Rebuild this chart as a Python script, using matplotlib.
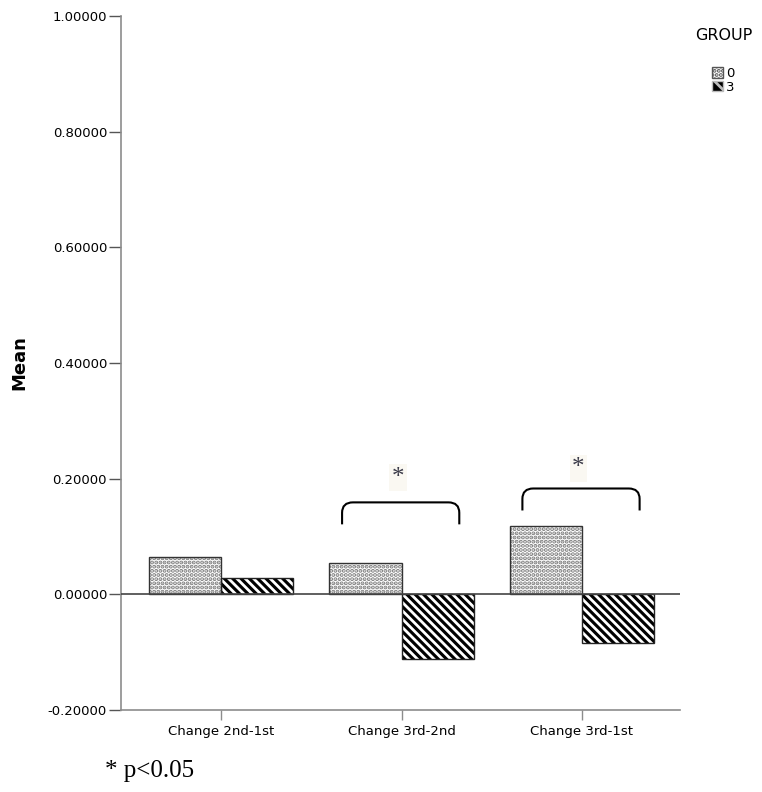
import numpy as np
import matplotlib
matplotlib.use("Agg")
import matplotlib.pyplot as plt
from matplotlib.patches import Patch, PathPatch
from matplotlib.path import Path

categories = ["Change 2nd-1st", "Change 3rd-2nd", "Change 3rd-1st"]
groups = ["0", "3"]
mean_g0 = [0.064, 0.054, 0.119]
mean_g3 = [0.028, -0.112, -0.085]
y_ticks = [-0.2, 0.0, 0.2, 0.4, 0.6, 0.8, 1.0]

# significance brackets: category index, bracket top, star height
sig_cats = [1, 2]
sig_tops = [0.159, 0.183]
sig_stars = [0.202, 0.218]

plt.rcParams["font.family"] = ["DejaVu Sans"]
plt.rcParams["hatch.linewidth"] = 2.0

fig = plt.figure(figsize=(7.62, 7.92), dpi=100)
ax = fig.add_axes([121 / 762, 1 - 710 / 792, (680 - 121) / 762, (710 - 16) / 792])

x = np.arange(len(categories))
w = 0.4

# group 0: grey dot stipple
ax.bar(x - w / 2, mean_g0, w, color="white", edgecolor="#7a7a7a", hatch="....", lw=0, zorder=2)
ax.bar(x - w / 2, mean_g0, w, fill=False, edgecolor="#333333", lw=1.0, zorder=3)
# group 3: black with white diagonal stripes
ax.bar(x + w / 2, mean_g3, w, color="black", edgecolor="white", hatch="\\\\\\\\", lw=0, zorder=2)
ax.bar(x + w / 2, mean_g3, w, fill=False, edgecolor="#222222", lw=1.0, zorder=3)

ax.axhline(0, color="#444444", lw=1.2, zorder=4)

ax.set_xlim(-0.556, 2.544)
ax.set_ylim(-0.2, 1.0)
ax.set_yticks(y_ticks)
ax.set_yticklabels([f"{v:.5f}" for v in y_ticks], fontsize=9.5)
ax.set_xticks(x)
ax.set_xticklabels(categories, fontsize=9.5)
ax.tick_params(axis="x", length=7, width=1, color="#8c8c8c", pad=4)
ax.tick_params(axis="y", length=9, width=1, color="#555555", pad=1)
for s in ("top", "right"):
    ax.spines[s].set_visible(False)
for s in ("left", "bottom"):
    ax.spines[s].set_color("#8c8c8c")
    ax.spines[s].set_linewidth(1.2)
ax.set_ylabel("Mean", fontsize=13, fontweight="bold", labelpad=14)


def bracket(ax, x0, x1, top, drop=0.038, rx=0.06, ry=0.018):
    verts = [(x0, top - drop), (x0, top - ry), (x0, top), (x0 + rx, top),
             (x1 - rx, top), (x1, top), (x1, top - ry), (x1, top - drop)]
    codes = [Path.MOVETO, Path.LINETO, Path.CURVE3, Path.CURVE3,
             Path.LINETO, Path.CURVE3, Path.CURVE3, Path.LINETO]
    ax.add_patch(PathPatch(Path(verts, codes), fill=False, lw=1.5,
                           edgecolor="black", zorder=5))


for c, top, star in zip(sig_cats, sig_tops, sig_stars):
    bracket(ax, c - 0.33, c + 0.32, top)
    ax.text(c - 0.02, star, "*", ha="center", va="center", fontsize=18,
            family=["Liberation Serif"], color="#3a3a48",
            bbox=dict(boxstyle="square,pad=0.1", fc="#faf8f2", ec="none"))

# legend: title sits well above the swatches
fig.text(724 / 762, 1 - 35 / 792, "GROUP", fontsize=11.5, ha="center", va="center")
handles = [Patch(facecolor="white", edgecolor="#555555", hatch="...."),
           Patch(facecolor="black", edgecolor="#bbbbbb", hatch="\\")]
fig.legend(handles, groups, loc="upper left",
           bbox_to_anchor=(700 / 762, 1 - 55 / 792), frameon=False,
           fontsize=9.5, handlelength=0.85, handleheight=0.85,
           handletextpad=0.25, labelspacing=0.05)

fig.text(105 / 762, 1 - 771 / 792, "* p<0.05", fontsize=18,
         family=["Liberation Serif"], va="center", ha="left")

fig.savefig("out.png", dpi=100)
